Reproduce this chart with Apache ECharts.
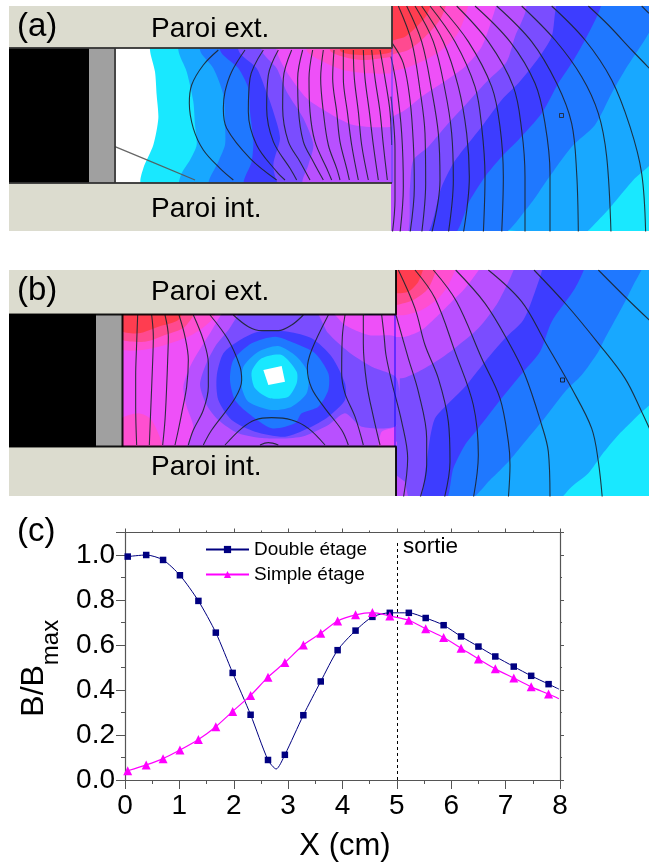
<!DOCTYPE html>
<html><head><meta charset="utf-8">
<style>html,body{margin:0;padding:0;background:#fff}#c{width:649px;height:863px}</style>
<script src="https://cdn.jsdelivr.net/npm/echarts@6/dist/echarts.min.js"></script>
</head><body><div id="c"></div>
<script>
// ---------- panel (c) data ----------
const xDouble=[0.05,0.39,0.70,1.01,1.35,1.67,1.98,2.31,2.63,2.78,2.94,3.28,3.60,3.91,4.24,4.55,4.87,5.22,5.53,5.86,6.18,6.50,6.81,7.15,7.47,7.79,7.98];
const yDouble=[0.993,1.0,0.978,0.91,0.796,0.655,0.476,0.29,0.089,0.049,0.112,0.288,0.438,0.577,0.664,0.725,0.743,0.743,0.72,0.688,0.638,0.593,0.549,0.504,0.463,0.426,0.404];
const xSimple=[0.05,0.39,0.70,1.01,1.35,1.67,1.98,2.31,2.63,2.94,3.28,3.60,3.91,4.24,4.55,4.87,5.22,5.53,5.86,6.18,6.50,6.81,7.15,7.47,7.79,7.98];
const ySimple=[0.041,0.067,0.095,0.133,0.18,0.237,0.305,0.376,0.457,0.522,0.60,0.652,0.707,0.734,0.744,0.729,0.71,0.672,0.633,0.586,0.538,0.494,0.453,0.414,0.382,0.361];
const unmarkedDouble=[2.78,7.98];
const unmarkedSimple=[7.98];

// ---------- band colours ----------
const cCyan='#19e8ff',cLt='#18a8ff',cBlue='#1f78ff',cDark='#3d3dff',cViolet='#7a4dff',cPurple='#b850ff',cMag='#ee50f8',cHot='#ff4fd0',cRose='#ff4a90',cRed='#ff3d50';
const cWall='#dcdccf',cGray='#a0a0a0';

// ---------- panel (a) level boundaries, channel part ----------
const aChWhite=[[120,15],[135,80],[140,150],[145,220],[130,300],[100,370],[95,420]];
const aChCyan=[[205,15],[230,80],[250,170],[255,240],[260,300],[240,345],[215,385],[210,420]];
const aChLt=[[270,15],[310,70],[340,150],[345,240],[345,300],[325,350],[300,420]];
const aChBlue=[[330,15],[385,70],[415,130],[420,200],[430,290],[425,350],[405,420]];
const aChDark=[[385,15],[440,70],[465,130],[490,200],[510,280],[490,360],[510,420]];
const aChViolet=[[455,15],[500,70],[530,140],[580,220],[610,300],[595,360],[580,420]];
const aChPurple=[[500,15],[530,80],[590,160],[650,200],[730,240],[845,245]];
const aChMag=[[590,15],[640,50],[700,75],[770,85],[845,85]];
const aChHot=[[660,15],[700,35],[760,45],[845,35]];
const aChRose=[[690,15],[720,28],[780,30],[845,20]];
// exterior part
const aExCyan=[[575,710],[650,650],[690,605],[745,540],[810,470]];
const aExLt=[[335,710],[430,620],[490,535],[560,440],[630,375],[680,280],[720,210],[810,60]];
const aExBlue=[[195,710],[255,600],[300,530],[350,470],[400,420],[470,340],[520,250],[560,190],[600,120],[640,40],[655,-10]];
const aExDark=[[112,710],[170,560],[205,490],[250,430],[290,380],[350,300],[400,250],[460,175],[500,110],[510,40],[518,-10]];
const aExViolet=[[58,710],[75,560],[85,480],[130,440],[190,370],[250,305],[310,240],[365,185],[390,110],[420,40],[428,-10]];
const aExPurple=[[18,355],[60,330],[110,290],[170,250],[240,200],[290,140],[320,60],[340,-10]];
const aExMag=[[18,215],[60,205],[120,180],[170,150],[215,105],[240,50],[255,-10]];
const aExHot=[[18,165],[70,150],[110,120],[145,85],[170,50],[190,-10]];
const aExRose=[[18,125],[60,110],[100,75],[125,45],[145,-10]];

// ---------- panel (a) contours ----------
const aChLines=[
 [[325,15],[280,60],[245,120],[238,175],[250,250],[280,315],[330,370],[370,405]],
 [[405,15],[365,80],[345,140],[340,190],[350,250],[420,340],[500,405]],
 [[460,15],[420,100],[415,200],[440,300],[500,380],[525,405]],
 [[505,15],[475,90],[470,190],[490,290],[540,370],[560,405]],
 [[545,15],[520,100],[518,190],[535,290],[570,350],[600,405]],
 [[578,15],[563,100],[565,190],[580,290],[610,350],[640,405]],
 [[608,15],[597,100],[600,200],[615,290],[650,370],[665,405]],
 [[640,15],[632,100],[640,200],[655,300],[680,370],[690,405]],
 [[672,15],[668,100],[680,200],[690,290],[710,370],[718,405]],
 [[700,15],[700,100],[712,200],[725,300],[745,405]],
 [[730,15],[733,100],[745,200],[755,300],[775,405]],
 [[760,15],[765,100],[778,200],[790,300],[805,405]],
 [[785,15],[795,100],[810,200],[820,300],[832,405]],
 [[810,15],[825,100],[840,200],[845,300]]
];
const aStray=[[15,305],[100,340],[255,405]];
const aExLines=[
 [[770,18],[792,40]],
 [[610,18],[670,75],[740,150],[800,212]],
 [[500,18],[600,120],[680,240],[735,380],[770,520],[782,700]],
 [[410,18],[510,120],[590,230],[640,340],[665,470],[678,700]],
 [[335,18],[440,125],[515,250],[560,370],[575,520],[580,700]],
 [[270,18],[375,125],[450,250],[480,370],[495,520],[495,700]],
 [[215,18],[310,125],[385,260],[410,390],[420,530],[420,700]],
 [[165,18],[250,125],[320,260],[345,380],[355,530],[350,700]],
 [[135,18],[210,125],[270,260],[290,380],[300,530],[295,700]],
 [[110,18],[175,125],[220,260],[245,400],[253,530],[235,700]],
 [[90,18],[145,125],[180,270],[200,400],[205,540],[190,700]],
 [[65,18],[110,125],[140,270],[160,400],[165,540],[140,700]],
 [[40,18],[80,125],[105,270],[120,400],[122,550],[110,700]],
 [[22,130],[55,190],[75,300],[85,430],[88,560],[75,700]],
 [[18,170],[35,260],[50,400],[55,560],[45,700]],
 [[18,290],[30,450],[30,600],[22,700]]
];

// ---------- panel (b) exterior boundaries ----------
const bExCyan=[[510,710],[560,665],[610,625],[650,570],[700,510],[760,450],[810,395]];
const bExLt=[[245,710],[320,640],[370,590],[420,530],[470,470],[540,380],[590,330],[640,260],[660,220],[720,110],[745,60],[780,-10]];
const bExBlue=[[178,710],[205,610],[240,540],[280,490],[350,400],[415,320],[465,260],[500,170],[570,70],[605,-10]];
const bExDark=[[100,710],[125,590],[135,520],[150,460],[185,420],[240,365],[300,290],[360,220],[415,165],[450,80],[478,-10]];
const bExViolet=[[0,335],[50,340],[100,320],[160,285],[215,245],[280,190],[340,110],[395,-10]];
const bExPurple=[[0,215],[60,215],[110,195],[160,150],[200,110],[240,70],[295,-10]];
const bExMag=[[33,150],[60,150],[110,135],[160,100],[190,60],[218,-10]];
const bExHot=[[33,120],[85,105],[130,70],[160,-10]];
const bExRose=[[33,85],[70,80],[100,50],[120,-10]];
const bExPatch=[[33,630],[60,650],[72,710],[33,710]];
// channel blobs
const bChBL=[[15,420],[15,330],[70,310],[110,330],[140,420]];
const bChBR=[[790,405],[815,385],[845,395],[845,405]];
const bChPurple=[[345,-10],[285,70],[225,170],[205,230],[215,290],[235,350],[220,420],[780,420],[800,365],[845,345],[845,85],[760,75],[690,45],[630,-10]];
const bChHot=[[15,115],[80,120],[150,105],[230,75],[290,30],[305,-15],[15,-15]];
const bChRose=[[15,85],[90,95],[150,75],[210,50],[245,-15],[15,-15]];
const bChRed=[[15,60],[70,70],[130,50],[190,30],[205,-15],[15,-15]];
const bChViolet=[[395,-10],[340,60],[300,110],[270,170],[255,225],[275,285],[310,330],[370,370],[450,385],[560,380],[640,345],[690,310],[740,350],[845,345],[845,205],[770,170],[700,125],[640,70],[590,-10]];
const bChDark=[[375,90],[430,65],[520,65],[590,85],[650,140],[690,220],[690,270],[640,320],[580,355],[510,380],[420,365],[350,330],[310,270],[305,200],[325,130]];
const bChBlue=[[410,100],[480,80],[540,100],[600,130],[640,190],[640,240],[610,290],[560,310],[540,340],[470,355],[400,310],[360,270],[345,210],[355,150]];
const bChLt=[[430,125],[490,108],[545,140],[580,190],[575,250],[530,290],[470,300],[400,275],[380,230],[385,170]];
const bChCyan=[[440,145],[500,135],[545,185],[545,220],[520,260],[465,265],[420,235],[410,185]];
const bChWhite=[[445,180],[500,168],[510,215],[460,225]];
// contours
const bChLines=[
 [[355,15],[400,50],[440,62],[490,62],[530,45],[565,15]],
 [[330,405],[380,355],[420,330],[470,323],[530,330],[580,355],[630,405]],
 [[435,405],[460,398],[490,405]],
 [[285,15],[340,90],[375,170],[380,210],[360,265],[290,360],[265,405]],
 [[640,15],[590,120],[577,175],[590,235],[630,295],[680,360],[700,405]],
 [[235,15],[265,90],[280,160],[280,230],[265,300],[235,360],[220,405]],
 [[192,15],[210,80],[220,150],[215,230],[200,310],[190,360],[180,405]],
 [[150,15],[160,80],[158,150],[155,230],[150,330],[143,405]],
 [[110,15],[115,80],[112,180],[108,280],[103,405]],
 [[68,15],[65,100],[62,200],[62,290],[65,405]],
 [[690,15],[682,80],[680,190],[690,250],[720,320],[745,405]],
 [[745,15],[745,100],[755,220],[775,320],[795,405]]
];
const bExLines=[
 [[640,15],[730,105],[800,172]],
 [[447,15],[545,120],[640,235],[720,340],[770,440],[800,505]],
 [[310,15],[410,110],[480,230],[560,370],[620,490],[640,590],[652,700]],
 [[212,15],[300,115],[370,230],[420,330],[470,480],[490,560],[495,700]],
 [[145,15],[215,110],[290,280],[345,400],[370,530],[375,600],[370,700]],
 [[90,15],[150,100],[210,260],[265,420],[280,570],[265,700]],
 [[40,15],[90,130],[120,240],[160,340],[190,470],[195,590],[178,700]],
 [[33,150],[70,280],[100,380],[125,520],[125,600],[105,700]],
 [[-10,150],[-3,210],[3,270],[20,350],[50,470],[68,580],[55,700]]
];

// ---------- helpers: crop frames to panel coordinates ----------
const f=(ox,oy)=>L=>L.map(p=>[ox+p[0]/3,oy+p[1]/3]);
const aCh=f(110,45),aEx=f(385,0),bCh=f(115,310),bEx=f(385,265);
const A0=6,A1=231,B0=270,B1=496,TOPX=-30;
const joinA=(ch,ex)=>{const C=aCh(ch),E=aEx(ex);return C.concat(E,[[E[E.length-1][0],A0+TOPX],[C[0][0],A0+TOPX]]);};
const closeB=ex=>{const E=bEx(ex);return E.concat([[E[E.length-1][0],B0+TOPX],[385,B0+TOPX],[385,E[0][1]]]);};
const rect=(x0,y0,x1,y1)=>[[x0,y0],[x1,y0],[x1,y1],[x0,y1]];

const polysA=[
 {p:aCh(aChWhite).concat([[300,A1+30],[680,A1+30],[680,A0+TOPX],[150,A0+TOPX]]),c:cCyan},
 {p:joinA(aChCyan,aExCyan),c:cLt},
 {p:joinA(aChLt,aExLt),c:cBlue},
 {p:joinA(aChBlue,aExBlue),c:cDark},
 {p:joinA(aChDark,aExDark),c:cViolet},
 {p:joinA(aChViolet,aExViolet),c:cPurple},
 {p:joinA(aChPurple,aExPurple),c:cMag},
 {p:joinA(aChMag,aExMag),c:cHot},
 {p:joinA(aChHot,aExHot),c:cRose},
 {p:joinA(aChRose,aExRose),c:cRed}
];
const polysB=[
 {p:rect(385,B0,649,B1),c:cCyan},
 {p:closeB(bExCyan),c:cLt},
 {p:closeB(bExLt),c:cBlue},
 {p:closeB(bExBlue),c:cDark},
 {p:closeB(bExDark),c:cViolet},
 {p:closeB(bExViolet),c:cPurple},
 {p:closeB(bExPurple),c:cMag},
 {p:closeB(bExMag),c:cHot},
 {p:closeB(bExHot),c:cRose},
 {p:closeB(bExRose),c:cRed},
 {p:bEx(bExPatch),c:cPurple},
 {p:rect(123,315,396,447),c:cMag},
 {p:bCh(bChBL),c:cHot},
 {p:bCh(bChBR),c:cMag},
 {p:bCh(bChPurple),c:cPurple},
 {p:bCh(bChHot),c:cHot},
 {p:bCh(bChRose),c:cRose},
 {p:bCh(bChRed),c:cRed},
 {p:bCh(bChViolet),c:cViolet},
 {p:bCh(bChDark),c:cDark},
 {p:bCh(bChBlue),c:cBlue},
 {p:bCh(bChLt),c:cLt},
 {p:bCh(bChCyan),c:cCyan},
 {p:bCh(bChWhite),c:'#ffffff'}
];
const wallsA=[
 {p:rect(9,A0,392,48),c:cWall},{p:rect(9,183,391,A1),c:cWall},
 {p:rect(9,48,89,183),c:'#000'},{p:rect(89,48,114,183),c:cGray}
];
const wallsB=[
 {p:rect(9,B0,396,314),c:cWall},{p:rect(9,447,396,B1),c:cWall},
 {p:rect(9,314,96,447),c:'#000'},{p:rect(96,314,122,447),c:cGray}
];
const edgesA=[[[9,48],[392,48],[392,A0]],[[9,183],[392,183]],[[115,48],[115,183]]];
const edgesB=[[[9,314.5],[396,314.5],[396,B0]],[[9,446.5],[396,446.5],[396,B1]],[[122.5,314],[122.5,447]]];
const blueA=[[392,48],[392,183]],blueB=[[395,315],[395,447]];

const polySeries=(list,ix,z)=>({type:'custom',xAxisIndex:ix,yAxisIndex:ix,silent:true,z,clip:true,
 data:list.map((_,i)=>[i]),
 renderItem:(params,api)=>{const it=list[params.dataIndex];
  return {type:'polygon',shape:{points:it.p.map(q=>api.coord(q)),smooth:it.p.length>4?0.25:0},style:{fill:it.c,stroke:null}};}});
const lineSeries=(pts,ix,o={})=>({type:'line',xAxisIndex:ix,yAxisIndex:ix,data:pts,smooth:o.smooth===undefined?0.35:o.smooth,showSymbol:false,silent:true,z:o.z||2,
 lineStyle:{color:o.color||'#1c2530',width:o.width||1.1,opacity:o.op||0.9}});

const series=[
 polySeries(polysA,0,1),polySeries(polysB,1,1),
 ...aChLines.map(l=>lineSeries(aCh(l),0)),
 ...aExLines.map(l=>lineSeries(aEx(l),0)),
 lineSeries(aCh(aStray),0,{color:'#555',width:1.2,smooth:0}),
 ...bChLines.map(l=>lineSeries(bCh(l),1)),
 ...bExLines.map(l=>lineSeries(bEx(l),1)),
 polySeries(wallsA,0,3),polySeries(wallsB,1,3),
 ...edgesA.map(l=>lineSeries(l,0,{color:'#333',width:2,smooth:0,z:4})),
 ...edgesB.map(l=>lineSeries(l,1,{color:'#000',width:2,smooth:0,z:4})),
 lineSeries(blueA,0,{color:'#4040ff',width:1,smooth:0,z:2}),
 lineSeries(blueB,1,{color:'#0000ff',width:1,smooth:0,z:2}),
 {type:'scatter',xAxisIndex:0,yAxisIndex:0,data:[[561.5,115.5]],symbol:'rect',symbolSize:4,silent:true,z:4,itemStyle:{color:'rgba(0,0,0,0)',borderColor:'#222',borderWidth:1}},
 {type:'scatter',xAxisIndex:1,yAxisIndex:1,data:[[562.5,380]],symbol:'rect',symbolSize:4,silent:true,z:4,itemStyle:{color:'rgba(0,0,0,0)',borderColor:'#111',borderWidth:1}},
 {name:'Double étage',type:'line',xAxisIndex:2,yAxisIndex:2,smooth:0.25,symbol:'rect',symbolSize:6.5,showAllSymbol:true,clip:false,z:6,
  data:xDouble.map((x,i)=>unmarkedDouble.includes(x)?{value:[x,yDouble[i]],symbol:'none'}:[x,yDouble[i]]),
  lineStyle:{color:'#000080',width:1},itemStyle:{color:'#000080'},
  markLine:{silent:true,symbol:'none',label:{show:false},lineStyle:{color:'#000',type:[3,3],width:1},data:[[{coord:[5,0]},{coord:[5,1.06]}]]}},
 {name:'Simple étage',type:'line',xAxisIndex:2,yAxisIndex:2,smooth:0.25,symbol:'triangle',symbolSize:9,showAllSymbol:true,clip:false,z:7,
  data:xSimple.map((x,i)=>unmarkedSimple.includes(x)?{value:[x,ySimple[i]],symbol:'none'}:[x,ySimple[i]]),
  lineStyle:{color:'#ff00ff',width:1.2},itemStyle:{color:'#ff00ff'}}
];

const hidden=(min,max,extra={})=>Object.assign({type:'value',min,max,show:false,splitLine:{show:false}},extra);
const F='"Liberation Sans",Arial,sans-serif';
const axisCol='#555';
const txt=(t,x,y,size)=>({type:'text',x,y,z:20,silent:true,style:{text:t,fontSize:size,fontFamily:F,fill:'#000',verticalAlign:'middle',align:'left'}});

const chart=echarts.init(document.getElementById('c'),null,{renderer:'canvas'});
chart.setOption({
 animation:false,backgroundColor:'#fff',
 grid:[
  {left:9,top:A0,width:640,height:A1-A0},
  {left:9,top:B0,width:640,height:B1-B0},
  {left:125,top:532.5,width:435,height:247.5}
 ],
 xAxis:[
  hidden(9,649,{gridIndex:0}),hidden(9,649,{gridIndex:1}),
  {type:'value',gridIndex:2,min:0,max:8,interval:1,position:'bottom',
   axisLine:{show:true,onZero:false,lineStyle:{color:axisCol,width:1.2}},
   axisTick:{show:true,inside:false,length:9,lineStyle:{color:axisCol,width:1}},
   minorTick:{show:true,splitNumber:2,length:4,lineStyle:{color:axisCol}},
   splitLine:{show:false},minorSplitLine:{show:false},
   axisLabel:{fontSize:28,fontFamily:F,color:'#000',margin:12},
   name:'X (cm)',nameLocation:'middle',nameGap:51,nameTextStyle:{fontSize:31,fontFamily:F,color:'#000',padding:[0,0,0,5]}},
  {type:'value',gridIndex:2,min:0,max:8,interval:1,position:'top',
   axisLine:{show:true,onZero:false,lineStyle:{color:axisCol,width:1.2}},
   axisTick:{show:true,inside:false,length:4,lineStyle:{color:axisCol}},
   minorTick:{show:true,splitNumber:2,length:2,lineStyle:{color:axisCol}},
   splitLine:{show:false},axisLabel:{show:false}}
 ],
 yAxis:[
  hidden(A0,A1,{gridIndex:0,inverse:true}),hidden(B0,B1,{gridIndex:1,inverse:true}),
  {type:'value',gridIndex:2,min:0,max:1.1,interval:0.2,position:'left',
   axisLine:{show:true,onZero:false,lineStyle:{color:axisCol,width:1.2}},
   axisTick:{show:true,inside:false,length:9,lineStyle:{color:axisCol,width:1}},
   minorTick:{show:true,splitNumber:2,length:4,lineStyle:{color:axisCol}},
   splitLine:{show:false},minorSplitLine:{show:false},
   axisLabel:{fontSize:28,fontFamily:F,color:'#000',margin:10,showMaxLabel:false,formatter:v=>v.toFixed(1)},
   name:'{b|B/B}{s|max}',nameLocation:'middle',nameGap:72,nameRotate:90,
   nameTextStyle:{rich:{b:{fontSize:32,fontFamily:F,color:'#000',lineHeight:38},s:{fontSize:24,fontFamily:F,color:'#000',lineHeight:38,verticalAlign:'bottom',padding:[0,24,-10,0]}}}},
  {type:'value',gridIndex:2,min:0,max:1.1,interval:0.2,position:'right',
   axisLine:{show:true,onZero:false,lineStyle:{color:axisCol,width:1.2}},
   axisTick:{show:true,inside:false,length:4,lineStyle:{color:axisCol}},
   minorTick:{show:true,splitNumber:2,length:2,lineStyle:{color:axisCol}},
   splitLine:{show:false},axisLabel:{show:false}}
 ],
 legend:{data:['Double étage','Simple étage'],orient:'vertical',left:205,top:540,padding:0,itemWidth:43,itemHeight:9,itemGap:6,selectedMode:false,
  textStyle:{fontSize:19,fontFamily:F,color:'#000'}},
 graphic:{elements:[
  txt('(a)',17,27,33),txt('(b)',17,291,33),txt('(c)',17,532,33),
  txt('Paroi ext.',151,29,28),txt('Paroi int.',151,209,28),
  txt('Paroi ext.',151,292,28),txt('Paroi int.',151,467,28),
  txt('sortie',403,547,22.5)
 ]},
 series
});
</script></body></html>
